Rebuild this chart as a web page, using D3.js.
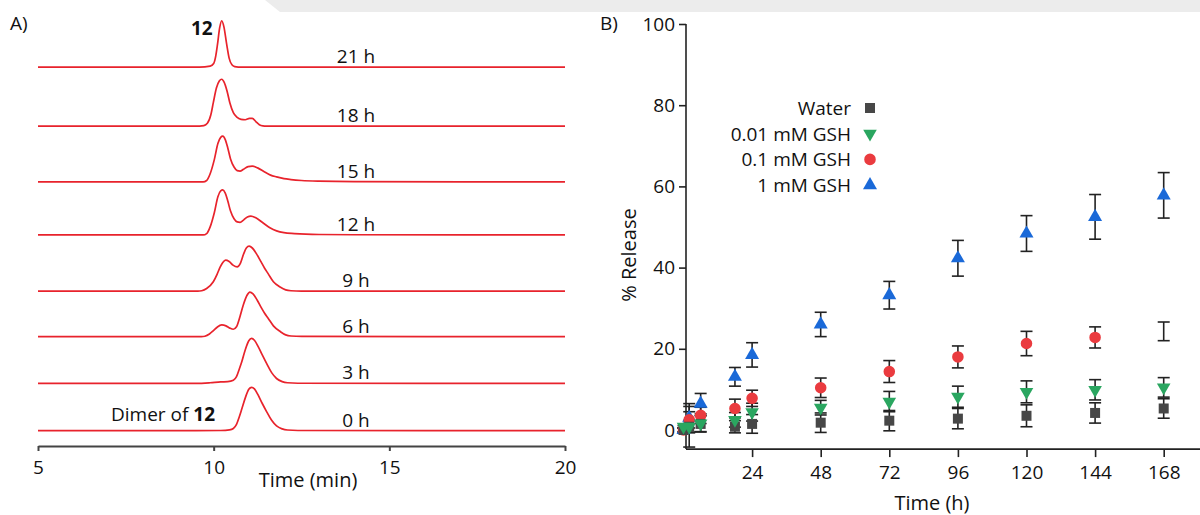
<!DOCTYPE html>
<html>
<head>
<meta charset="utf-8">
<script src="https://cdn.jsdelivr.net/npm/d3@7.9.0/dist/d3.min.js"></script>
<style>
  body { margin: 0; background: #fff; }
  svg { display: block; font-family: 'Open Sans', sans-serif; }
</style>
</head>
<body>
<svg id="chart" width="1200" height="515"></svg>
<script>
// ── Panel A: chromatogram traces (time in min, signal in a.u.) ────────────
const traceLabels = ['21 h', '18 h', '15 h', '12 h', '9 h', '6 h', '3 h', '0 h'];
const traceOffsets = [808, 677, 553, 435, 310, 209, 105, 0];

const trace21h = [[5,0],[9.6,0],[9.9,2],[10.0,8],[10.06,25],[10.11,51],[10.17,87],[10.23,103],[10.29,90],[10.37,51],[10.44,20],[10.52,5],[10.6,1],[10.7,0],[20,0]];
const trace18h = [[5,0],[9.6,0],[9.72,1],[9.82,6],[9.92,25],[9.99,52],[10.08,85],[10.16,100],[10.23,104],[10.3,97],[10.38,78],[10.46,52],[10.56,30],[10.66,20],[10.78,15],[10.9,14],[11.02,17],[11.1,17],[11.2,10],[11.3,3],[11.4,0.5],[11.5,0],[20,0]];
const trace15h = [[5,0],[9.7,0],[9.8,3],[9.9,18],[10.02,50],[10.12,85],[10.2,99],[10.26,101.5],[10.33,94],[10.4,76],[10.48,51],[10.58,33],[10.67,25],[10.75,24],[10.85,28],[10.98,34],[11.1,35],[11.25,31],[11.45,22],[11.62,15],[11.79,11],[12.0,7],[12.2,5],[12.5,3],[13,1.5],[14,0.5],[20,0]];
const trace12h = [[5,0],[9.7,0],[9.8,3],[9.9,18],[10.02,50],[10.12,85],[10.2,98],[10.26,100],[10.33,93],[10.4,76],[10.48,53],[10.58,36],[10.67,29],[10.75,28],[10.85,33],[10.96,40],[11.06,42],[11.2,38],[11.4,27],[11.6,16],[11.79,9],[12.0,5],[12.3,3],[13,1],[14,0.5],[20,0]];
const trace9h = [[5,0],[9.55,0],[9.66,1],[9.8,6],[9.99,21],[10.1,38],[10.18,53],[10.26,64],[10.34,69],[10.44,66],[10.55,58],[10.67,54],[10.76,62],[10.85,82],[10.93,96],[11.01,100],[11.1,96],[11.22,83],[11.35,65],[11.45,51],[11.55,39],[11.7,21],[11.89,9.5],[12.05,3],[12.2,1],[12.5,0.3],[20,0]];
const trace6h = [[5,0],[9.65,0],[9.75,1],[9.88,6],[10.0,14],[10.1,21],[10.23,26],[10.35,24],[10.46,19],[10.56,16.5],[10.65,22],[10.75,45],[10.85,72],[10.95,92],[11.03,99],[11.12,95],[11.24,81],[11.36,64],[11.45,52],[11.55,41],[11.7,24],[11.9,11],[12.05,4],[12.2,1.5],[12.5,0.5],[20,0]];
const trace3h = [[5,0],[9.5,0],[9.9,1.5],[10.2,3.5],[10.4,4],[10.56,7],[10.65,15],[10.73,32],[10.8,48],[10.9,75],[11.0,95],[11.08,100],[11.16,96],[11.26,83],[11.38,64],[11.51,44],[11.65,24],[11.79,11],[11.95,4],[12.1,1.5],[12.4,0.5],[20,0]];
const trace0h = [[5,0],[9.5,0],[10.2,0.5],[10.45,2],[10.56,5],[10.65,14],[10.73,31],[10.8,48],[10.9,73],[11.0,92],[11.08,96.5],[11.16,93],[11.26,80],[11.38,61],[11.51,42],[11.65,23],[11.79,10.5],[11.95,4],[12.1,1.5],[12.4,0.5],[20,0]];

const traces = [trace21h, trace18h, trace15h, trace12h, trace9h, trace6h, trace3h, trace0h];
const timeTicksA = [5, 10, 15, 20];

// ── Panel B: % release vs time ─────────────────────────────────────────────
const releaseTimes = [0, 2, 6, 18, 24, 48, 72, 96, 120, 144, 168];
const waterMean   = [0, 0.8, 1.5, 0.8, 1.5, 1.8, 2.3, 2.8, 3.5, 4.2, 5.3];
const waterErr    = [0.5, 5, 2, 1.5, 2.3, 2.4, 2.5, 2.5, 2.7, 2.5, 2.4];
const gsh001Mean  = [0.8, 0.8, 1.6, 2.5, 4.4, 5.5, 7, 8.2, 9.4, 9.9, 10.5];
const gsh001Err   = [0.3, 1.5, 2, 1.8, 2.2, 1.8, 2.5, 2.6, 2.7, 2.5, 2.4];
const gsh01Mean   = [0, 2.5, 3.6, 5.3, 7.8, 10.4, 14.4, 18, 21.3, 22.8, 24.3];
const gsh01Err    = [0.5, 2, 2, 2.3, 2, 2.4, 2.7, 2.7, 3, 2.6, 2.3];
const gsh1Mean    = [0, 3, 6.5, 13.1, 18.5, 26, 33.2, 42.3, 48.4, 52.5, 57.8];
const gsh1Err     = [0.5, 3.5, 2.5, 2.3, 3, 3, 3.4, 4.4, 4.4, 5.5, 5.6];
const gsh01HiddenMarkers = [168]; // error bar only in the original

const seriesNames = ['Water', '0.01 mM GSH', '0.1 mM GSH', '1 mM GSH'];
const timeTicksB = [24, 48, 72, 96, 120, 144, 168];
const releaseTicks = [0, 20, 40, 60, 80, 100];

const svg = d3.select('#chart');

// faint watermark band at the top of the source image
svg.append('path')
  .attr('d', 'M265,0 L1200,0 L1200,12 L280,12 Z')
  .attr('fill', '#ececec');

// ── Panel A ───────────────────────────────────────────────────────────────
const xA = d3.scaleLinear().domain([5, 20]).range([38, 565]);
const yA = d3.scaleLinear().domain([0, 100]).range([430.7, 385.7]);

const gA = svg.append('g');

traces.forEach((tr, i) => {
  const off = traceOffsets[i];
  const line = d3.line()
    .x(d => xA(d[0]))
    .y(d => yA(d[1] + off))
    .curve(d3.curveMonotoneX);
  gA.append('path')
    .attr('d', line(tr))
    .attr('fill', 'none')
    .attr('stroke', '#e8232c')
    .attr('stroke-width', 1.7);

  gA.append('text')
    .attr('x', xA(14.05))
    .attr('y', yA(off) - 4)
    .attr('text-anchor', 'middle')
    .attr('font-size', 19)
    .attr('fill', '#111')
    .text(traceLabels[i]);
});

const axA = gA.append('g')
  .attr('transform', 'translate(0,446)')
  .call(d3.axisBottom(xA).tickValues(timeTicksA).tickSize(5).tickSizeOuter(0).tickPadding(10));
axA.select('.domain').attr('stroke', '#444').attr('stroke-width', 2);
axA.selectAll('.tick line').attr('stroke', '#444').attr('stroke-width', 2);
axA.selectAll('.tick text').attr('font-size', 19).attr('font-family', "'Open Sans', sans-serif").attr('fill', '#111');

gA.append('text').attr('x', 308).attr('y', 487).attr('text-anchor', 'middle')
  .attr('font-size', 20).attr('fill', '#111').text('Time (min)');

gA.append('text').attr('x', 10).attr('y', 30).attr('font-size', 19).attr('fill', '#111').text('A)');

gA.append('text').attr('x', xA(10.23) - 9).attr('y', 35).attr('text-anchor', 'end')
  .attr('font-size', 19).attr('font-weight', 'bold').attr('fill', '#111').text('12');

const dimer = gA.append('text').attr('x', xA(10.04)).attr('y', 421).attr('text-anchor', 'end')
  .attr('font-size', 19).attr('fill', '#111');
dimer.append('tspan').text('Dimer of ');
dimer.append('tspan').attr('font-weight', 'bold').text('12');

// ── Panel B ───────────────────────────────────────────────────────────────
const xB = d3.scaleLinear().domain([0, 168]).range([683.5, 1163.7]);
const yB = d3.scaleLinear().domain([0, 100]).range([430, 24]);
const axisX = 686;
const axisY = yB(-4.7);

const gB = svg.append('g');

const axB = gB.append('g')
  .attr('transform', `translate(0,${axisY})`)
  .call(d3.axisBottom(xB).tickValues(timeTicksB).tickSize(8).tickPadding(8));
axB.select('.domain').remove();
const ayB = gB.append('g')
  .attr('transform', `translate(${axisX},0)`)
  .call(d3.axisLeft(yB).tickValues(releaseTicks).tickSize(7).tickPadding(4));
ayB.select('.domain').remove();
[axB, ayB].forEach(a => {
  a.selectAll('.tick line').attr('stroke', '#222').attr('stroke-width', 1.6);
  a.selectAll('.tick text').attr('font-size', 19).attr('font-family', "'Open Sans', sans-serif").attr('fill', '#111');
});
gB.append('line').attr('x1', axisX).attr('x2', 1200).attr('y1', axisY).attr('y2', axisY)
  .attr('stroke', '#222').attr('stroke-width', 1.6);
gB.append('line').attr('x1', axisX).attr('x2', axisX).attr('y1', yB(100)).attr('y2', axisY)
  .attr('stroke', '#222').attr('stroke-width', 1.6);

gB.append('text').attr('transform', 'translate(636,255) rotate(-90)').attr('text-anchor', 'middle')
  .attr('font-size', 20).attr('fill', '#111').text('% Release');
gB.append('text').attr('x', 932).attr('y', 510).attr('text-anchor', 'middle')
  .attr('font-size', 20).attr('fill', '#111').text('Time (h)');
gB.append('text').attr('x', 600).attr('y', 30).attr('font-size', 19).attr('fill', '#111').text('B)');

const series = [
  { name: seriesNames[0], mean: waterMean,  err: waterErr,  color: '#474747', symbol: d3.symbolSquare,   size: 100, rot: 0 },
  { name: seriesNames[1], mean: gsh001Mean, err: gsh001Err, color: '#2aa660', symbol: d3.symbolTriangle, size: 80,  rot: 180 },
  { name: seriesNames[2], mean: gsh01Mean,  err: gsh01Err,  color: '#ea3b3f', symbol: d3.symbolCircle,   size: 105, rot: 0 },
  { name: seriesNames[3], mean: gsh1Mean,   err: gsh1Err,   color: '#1a69d8', symbol: d3.symbolTriangle, size: 85,  rot: 0 },
];

// error bars first, markers on top
const bars = gB.append('g').attr('stroke', '#222').attr('stroke-width', 1.6);
series.forEach(s => {
  releaseTimes.forEach((t, i) => {
    const x = xB(t), y0 = yB(s.mean[i] - s.err[i]), y1 = yB(s.mean[i] + s.err[i]);
    bars.append('line').attr('x1', x).attr('x2', x).attr('y1', y0).attr('y2', y1);
    bars.append('line').attr('x1', x - 6).attr('x2', x + 6).attr('y1', y0).attr('y2', y0);
    bars.append('line').attr('x1', x - 6).attr('x2', x + 6).attr('y1', y1).attr('y2', y1);
  });
});

const drawOrder = [3, 2, 0, 1];
drawOrder.forEach(k => {
  const s = series[k];
  const sym = d3.symbol().type(s.symbol).size(s.size);
  releaseTimes.forEach((t, i) => {
    if (k === 2 && gsh01HiddenMarkers.includes(t)) return;
    gB.append('path')
      .attr('d', sym())
      .attr('transform', `translate(${xB(t)},${yB(s.mean[i])}) rotate(${s.rot})`)
      .attr('fill', s.color);
  });
});

// legend
const legend = gB.append('g');
series.forEach((s, i) => {
  const y = 108 + i * 25.7;
  legend.append('text').attr('x', 851).attr('y', y + 7).attr('text-anchor', 'end')
    .attr('font-size', 19).attr('fill', '#111').text(s.name);
  legend.append('path')
    .attr('d', d3.symbol().type(s.symbol).size(s.size)())
    .attr('transform', `translate(870,${y}) rotate(${s.rot})`)
    .attr('fill', s.color);
});
</script>
</body>
</html>
